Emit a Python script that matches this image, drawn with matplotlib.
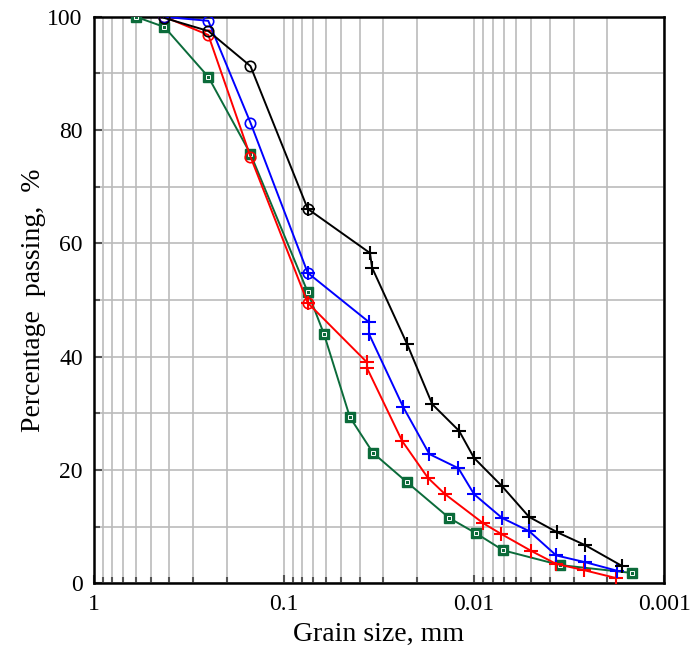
import matplotlib
matplotlib.use('Agg')
import matplotlib.pyplot as plt
from matplotlib.ticker import FixedLocator, LogLocator, NullFormatter

# sieve part (circles) and hydrometer part (pluses), grain size in mm / % passing
red_sieve_d = [0.425, 0.25, 0.15, 0.075]
red_sieve_p = [100, 96.8, 75.3, 49.5]
red_hyd_d = [0.075, 0.0366, 0.0366, 0.0239, 0.0175, 0.0142, 0.00897, 0.00721, 0.00501, 0.0037, 0.00264, 0.00179]
red_hyd_p = [49.5, 39.0, 38.0, 25.1, 18.6, 15.7, 10.6, 8.7, 5.7, 3.4, 2.3, 0.9]

blue_sieve_d = [0.425, 0.25, 0.15, 0.075]
blue_sieve_p = [100, 99.3, 81.3, 54.8]
blue_hyd_d = [0.075, 0.0357, 0.0357, 0.0236, 0.0172, 0.0121, 0.01, 0.00712, 0.00514, 0.0037, 0.0026, 0.00177]
blue_hyd_p = [54.8, 46.1, 44.0, 31.1, 22.8, 20.3, 15.7, 11.5, 9.2, 4.9, 3.7, 2.2]

black_sieve_d = [0.425, 0.25, 0.15, 0.075]
black_sieve_p = [99.8, 97.5, 91.3, 66.1]
black_hyd_d = [0.075, 0.0353, 0.0344, 0.0225, 0.0166, 0.012, 0.01, 0.00712, 0.00514, 0.00366, 0.0026, 0.00166]
black_hyd_p = [66.1, 58.3, 55.7, 42.2, 31.6, 26.9, 22.1, 17.1, 11.7, 9.0, 6.7, 3.0]

green_d = [0.6, 0.425, 0.25, 0.15, 0.075, 0.0616, 0.045, 0.034, 0.0225, 0.0135, 0.00976, 0.00703, 0.00353, 0.00147]
green_p = [100, 98.2, 89.4, 75.8, 51.4, 44.0, 29.3, 23.0, 17.8, 11.5, 8.8, 5.8, 3.2, 1.8]

plt.rcParams['font.family'] = ['Liberation Serif', 'DejaVu Serif']

fig = plt.figure(figsize=(7, 6.48), dpi=100)
ax = fig.add_axes([0.134, 0.100, 0.815, 0.874])
ax.set_xscale('log')

green = '#0b6b3a'
series = [('red', red_sieve_d, red_sieve_p, red_hyd_d, red_hyd_p),
          ('blue', blue_sieve_d, blue_sieve_p, blue_hyd_d, blue_hyd_p),
          ('black', black_sieve_d, black_sieve_p, black_hyd_d, black_hyd_p)]

ax.plot(green_d, green_p, color=green, linewidth=1.4, marker='s', markersize=7.5,
        markerfacecolor=green, markeredgecolor=green, zorder=3)
ax.plot(green_d, green_p, linestyle='none', marker='s', markersize=2.5,
        markerfacecolor='none', markeredgecolor='white', markeredgewidth=0.7, zorder=4)

for c, sd, sp, hd, hp in series:
    ax.plot(sd, sp, color=c, linewidth=1.4, marker='o', markersize=7.5,
            markerfacecolor='none', markeredgewidth=1.2, zorder=5)
    ax.plot(hd, hp, color=c, linewidth=1.4, marker='+', markersize=9.5,
            markeredgewidth=1.5, zorder=5)

ax.set_xlim(1, 0.001)
ax.set_ylim(0, 100)

ax.xaxis.set_major_locator(FixedLocator([1, 0.1, 0.01, 0.001]))
ax.set_xticklabels(['1', '0.1', '0.01', '0.001'])
ax.xaxis.set_minor_locator(LogLocator(base=10, subs=range(2, 10)))
ax.xaxis.set_minor_formatter(NullFormatter())
ax.set_yticks([0, 20, 40, 60, 80, 100])
ax.set_yticks([10, 30, 50, 70, 90], minor=True)

ax.grid(True, which='both', color='#bbbbbb', linewidth=1.2)
ax.set_axisbelow(True)
ax.tick_params(which='both', direction='in', top=False, right=False, labelsize=17,
               color='#555555', width=1.5)
ax.tick_params(which='major', length=6, pad=8)
ax.tick_params(which='minor', length=4)
for sp in ax.spines.values():
    sp.set_linewidth(1.8)

ax.set_xlabel('Grain size, mm', fontsize=20, labelpad=5)
ax.set_ylabel('Percentage  passing,  %', fontsize=20, labelpad=1)

fig.savefig('out.png', dpi=100)
